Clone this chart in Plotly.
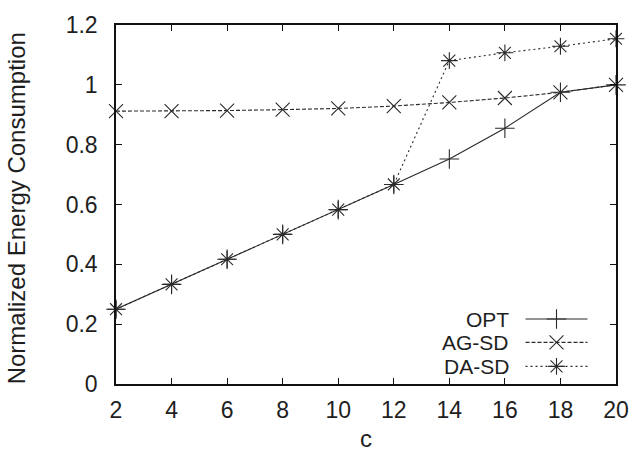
import plotly.graph_objects as go

c_values = [2, 4, 6, 8, 10, 12, 14, 16, 18, 20]
opt = [0.25, 0.333, 0.417, 0.5, 0.583, 0.667, 0.752, 0.855, 0.975, 1.0]
ag_sd = [0.912, 0.912, 0.914, 0.917, 0.921, 0.929, 0.941, 0.956, 0.975, 1.0]
da_sd = [0.25, 0.333, 0.417, 0.5, 0.583, 0.667, 1.081, 1.107, 1.129, 1.154]
series_names = ["OPT", "AG-SD", "DA-SD"]
x_ticks = [2, 4, 6, 8, 10, 12, 14, 16, 18, 20]
y_ticks = [0, 0.2, 0.4, 0.6, 0.8, 1.0, 1.2]

FONT = "Liberation Sans, Arial, Helvetica, sans-serif"
TXT = "#1e1e1e"
LINE_COL = "#2a2a2a"
styles = [
    dict(dash="solid", symbol="cross-thin-open"),
    dict(dash="4px,2px", symbol="x-thin-open"),
    dict(dash="2px,3px", symbol="asterisk-open"),
]

fig = go.Figure()
for name, ys, st in zip(series_names, [opt, ag_sd, da_sd], styles):
    fig.add_trace(go.Scatter(
        x=c_values, y=ys, name=name, mode="lines+markers",
        line=dict(color=LINE_COL, width=1.1, dash=st["dash"]),
        marker=dict(symbol=st["symbol"], size=14, color=LINE_COL,
                    line=dict(color=LINE_COL, width=1.1)),
        showlegend=False, cliponaxis=False,
    ))

# custom gnuplot-style legend (text on the left, sample on the right)
leg_y = [0.181, 0.116, 0.049]   # paper coords of rows
leg_text_x = 0.787
leg_line_x0, leg_line_x1 = 0.819, 0.943
for name, ly, st in zip(series_names, leg_y, styles):
    fig.add_annotation(x=leg_text_x, y=ly, xref="paper", yref="paper",
                       text=name, showarrow=False, xanchor="right",
                       yanchor="middle", borderpad=0,
                       font=dict(family=FONT, size=21, color=TXT))
    fig.add_trace(go.Scatter(
        x=[leg_line_x0, leg_line_x1], y=[ly, ly], xaxis="x2", yaxis="y2",
        mode="lines", line=dict(color=LINE_COL, width=1.1, dash=st["dash"]),
        showlegend=False, hoverinfo="skip"))
    fig.add_trace(go.Scatter(
        x=[(leg_line_x0 + leg_line_x1) / 2], y=[ly], xaxis="x2", yaxis="y2",
        mode="markers",
        marker=dict(symbol=st["symbol"], size=14, color=LINE_COL,
                    line=dict(color=LINE_COL, width=1.1)),
        showlegend=False, hoverinfo="skip"))

# axis titles as annotations for precise placement
fig.add_annotation(x=-0.199, y=0.488, xref="paper", yref="paper",
                   text="Normalized Energy Consumption", textangle=-90,
                   showarrow=False, xanchor="center", yanchor="middle",
                   font=dict(family=FONT, size=24, color=TXT))
fig.add_annotation(x=0.5, y=-0.153, xref="paper", yref="paper",
                   text="c", showarrow=False, xanchor="center", yanchor="middle",
                   font=dict(family=FONT, size=24, color=TXT))

axis_common = dict(
    showline=True, linecolor="#111", linewidth=1.5, mirror="ticks",
    ticks="inside", ticklen=6, tickwidth=1, tickcolor="#111",
    showgrid=False, zeroline=False,
    tickfont=dict(family=FONT, size=23, color=TXT),
)

fig.update_layout(
    width=641, height=459,
    margin=dict(l=116, r=17, t=14, b=75),
    paper_bgcolor="white", plot_bgcolor="white",
    xaxis=dict(range=[2, 20], tickvals=x_ticks, ticklabelstandoff=5,
               **axis_common),
    yaxis=dict(range=[0, 1.2], tickvals=y_ticks, ticklabelstandoff=12,
               **axis_common),
    xaxis2=dict(range=[0, 1], overlaying="x", visible=False, fixedrange=True),
    yaxis2=dict(range=[0, 1], overlaying="y", visible=False, fixedrange=True),
)

fig.write_html("out.html")
